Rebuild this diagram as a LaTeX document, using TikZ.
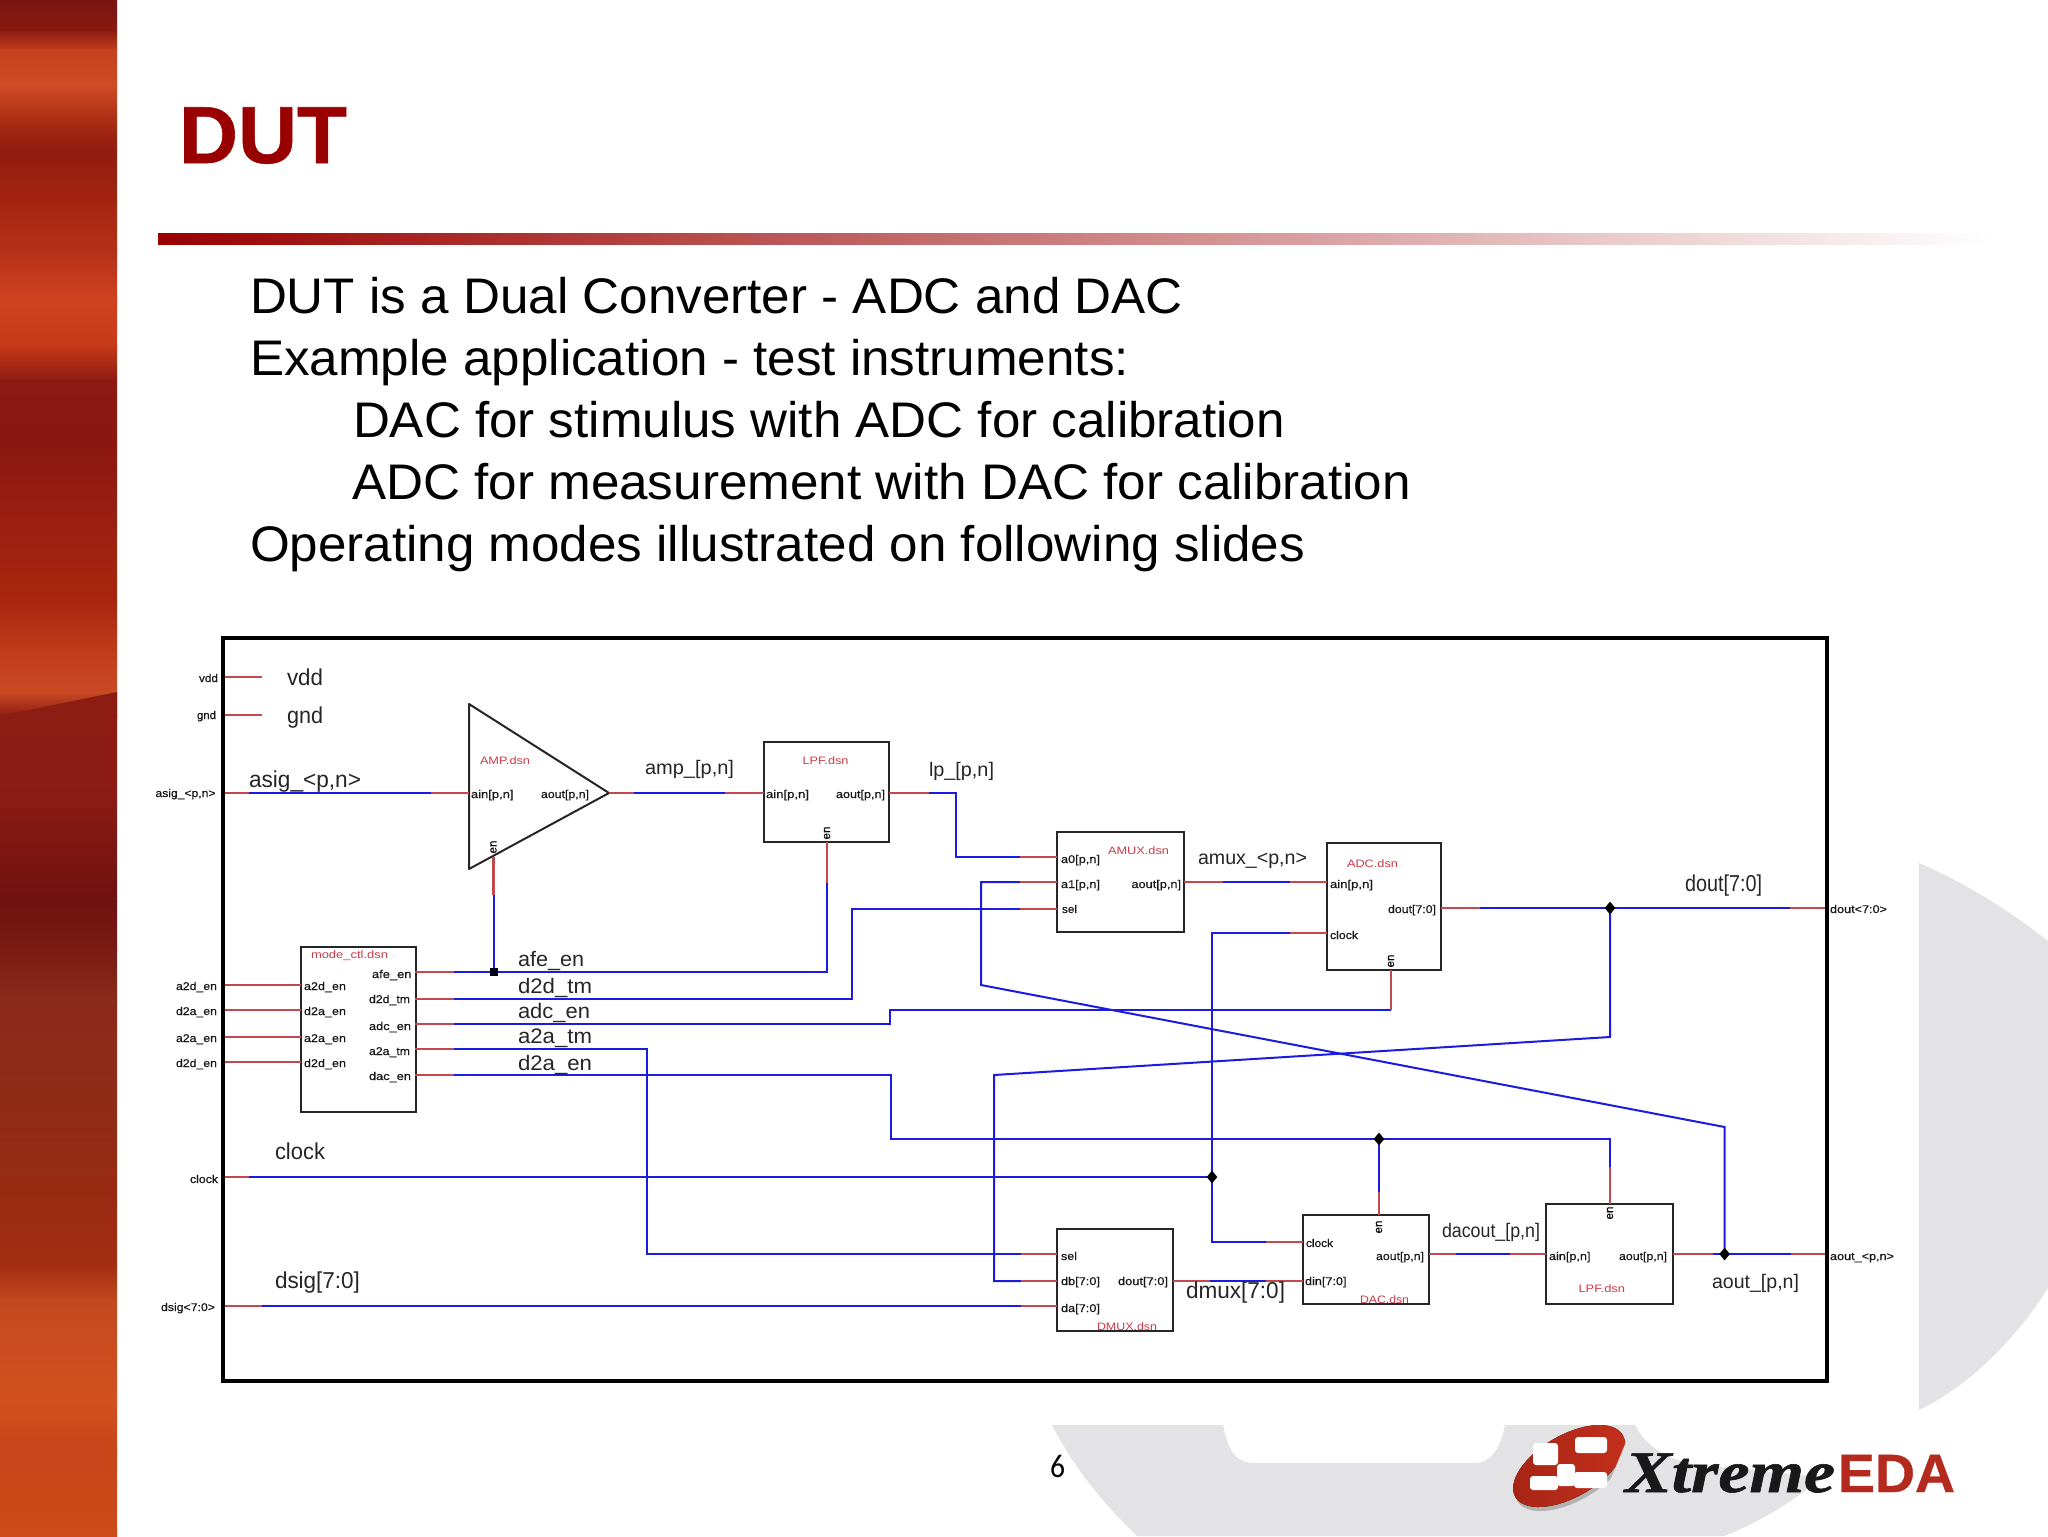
\documentclass[tikz,border=0pt]{standalone}
\usepackage{fontspec}
\usepackage{graphicx}
\usetikzlibrary{shapes.geometric}
\setmainfont{Liberation Sans}
\newfontfamily\serifLogo{Liberation Serif}
\newfontfamily\pageFont{Carlito}
\definecolor{titlered}{HTML}{990000}
\definecolor{wirered}{HTML}{C24A4E}
\definecolor{wireblue}{HTML}{1C1CE0}
\definecolor{dsnred}{HTML}{CC3A48}
\definecolor{wmgrey}{HTML}{E3E3E6}
\definecolor{logored}{HTML}{C4301C}
\definecolor{logodark}{HTML}{A62414}
\definecolor{edared}{HTML}{B52A1E}
\definecolor{bandslant}{HTML}{8D1D12}
\newlength\px \setlength\px{0.5pt}
\newcounter{tc}
% \lbl[style]{x}{baseline}{width}{text}
\newcommand\lbl[5][]{\stepcounter{tc}\node[txt,#1,anchor=base west] (t\arabic{tc}) at (#2,#3) {\resizebox{#4\px}{\height}{#5}};}
% \tri{a}{b}{c}{d}: red stub a-b, blue b-c, red stub c-d
\newcommand\tri[4]{\draw[redw] (#1) -- (#2); \draw[bluew] (#2) -- (#3); \draw[redw] (#3) -- (#4);}
\newcommand\stub[2]{\draw[redw] (#1) -- (#2);}
\tikzset{
  txt/.style={inner sep=0pt,outer sep=0pt,text=black},
  sm/.style={font=\fontsize{5.6}{6}\selectfont\addfontfeature{FakeBold=0.5},text=black!90},
  dsn/.style={font=\fontsize{5.4}{6}\selectfont,text=dsnred},
  sigA/.style={font=\fontsize{11.5}{13}\selectfont,text=black!85},
  sigB/.style={font=\fontsize{10.5}{12}\selectfont,text=black!85},
  sigC/.style={font=\fontsize{9.8}{12}\selectfont,text=black!85},
  body/.style={font=\fontsize{25}{30}\selectfont},
  blk/.style={draw=black!85,line width=1pt,inner sep=0pt,outer sep=0pt,rectangle,anchor=north west},
  redw/.style={draw=wirered,line width=1.1pt},
  bluew/.style={draw=wireblue,line width=1pt},
  jdia/.style={diamond,fill=black,inner sep=0pt,minimum width=11\px,minimum height=13\px},
  jsq/.style={rectangle,fill=black!90!blue,inner sep=0pt,minimum width=8\px,minimum height=8\px},
  enl/.style={inner sep=0pt,outer sep=0pt,rotate=90,font=\fontsize{5.8}{6}\selectfont\addfontfeature{FakeBold=0.5},text=black}
}
\begin{document}
\begin{tikzpicture}[x=0.5pt,y=-0.5pt]
\useasboundingbox (0,0) rectangle (2048,1536);
\fill[white] (0,0) rectangle (2048,1536);
% sidebar
\foreach \ya/\ca/\yb/\cb in {0/7A1410/30/8A1A10,30/8A1A10/50/C5401C,50/C5401C/85/CF4C24,85/CF4C24/125/A52A12,125/A52A12/150/8F1C10,150/8F1C10/200/A32510,200/A32510/250/B5301A,250/B5301A/300/D0431F,300/D0431F/345/C63A18,345/C63A18/380/8D1A12,380/8D1A12/440/8A1710,440/8A1710/520/9A1F10,520/9A1F10/600/A8260F,600/A8260F/660/C4401C,660/C4401C/692/C94A24,692/C94A24/715/8D1D12,715/8D1D12/800/8A1A14,800/8A1A14/900/6E1210,900/6E1210/950/7A1C14,950/7A1C14/1000/8A2A1A,1000/8A2A1A/1100/8F2C16,1100/8F2C16/1200/9A2A12,1200/9A2A12/1265/A32E12,1265/A32E12/1300/C24A1F,1300/C24A1F/1400/D3501F,1400/D3501F/1450/C9451A,1450/C9451A/1537/CF4A18}{
  \definecolor{sa}{HTML}{\ca}\definecolor{sb}{HTML}{\cb}
  \fill[top color=sa,bottom color=sb] (0,\ya) rectangle (117,\yb+1);
}
\fill[bandslant] (0,716) -- (117,692) -- (117,718) -- (0,722) -- cycle;
% watermark
\fill[wmgrey] (1919,863) .. controls (1970,885) and (2015,915) .. (2048,941) -- (2048,1288) .. controls (2015,1340) and (1970,1385) .. (1919,1410) -- cycle;
\fill[wmgrey] (1052,1425) .. controls (1075,1470) and (1105,1505) .. (1137,1536) -- (1724,1536) .. controls (1760,1522) and (1795,1500) .. (1823,1477) -- (1700,1465) .. controls (1665,1460) and (1645,1445) .. (1635,1425) -- (1505,1425) .. controls (1500,1450) and (1490,1463) .. (1475,1463) -- (1255,1463) .. controls (1235,1463) and (1228,1450) .. (1223,1425) -- cycle;
% title
\lbl[font=\fontsize{40.5}{44}\selectfont\bfseries\addfontfeature{FakeBold=0.7},text=titlered]{179}{163}{168}{DUT}
\fill[left color=titlered,right color=white] (158,233) rectangle (1990,244);
\lbl[body]{250}{313}{933}{DUT is a Dual Converter - ADC and DAC}
\lbl[body]{250}{375}{879}{Example application - test instruments:}
\lbl[body]{353}{437}{932}{DAC for stimulus with ADC for calibration}
\lbl[body]{352}{499}{1059}{ADC for measurement with DAC for calibration}
\lbl[body]{250}{561}{1055}{Operating modes illustrated on following slides}
% page number
\lbl[font=\fontsize{16.5}{18}\selectfont\pageFont]{1050}{1477}{15}{6}
% logo
\fill[black!30,rotate around={30:(1571,1470)}] (1571,1470) ellipse [x radius=31pt,y radius=15.5pt];
\fill[left color=logodark,right color=logored,rotate around={30:(1569,1466)}] (1569,1466) ellipse [x radius=31pt,y radius=15.5pt];
\fill[wmgrey] (1626,1442) -- (1607,1488) -- (1640,1500) -- (1645,1450) -- cycle;
\begin{scope}[rounded corners=1.5pt]
\fill[white] (1533,1443) rectangle (1558,1465);
\fill[white] (1575,1437) rectangle (1607,1453);
\fill[white] (1557,1464) rectangle (1575,1486);
\fill[white] (1530,1476) rectangle (1558,1490);
\fill[white] (1574,1472) rectangle (1607,1488);
\end{scope}
\lbl[font=\fontsize{29.5}{32}\selectfont\serifLogo\bfseries\itshape\addfontfeature{FakeBold=1},text=black!90]{1625}{1492}{210}{Xtreme}
\lbl[font=\fontsize{27}{30}\selectfont\bfseries\addfontfeature{FakeBold=0.6},text=edared]{1838}{1492}{117}{EDA}
% coordinates
\coordinate (vddA) at (224,677); \coordinate (vddB) at (262,677);
\coordinate (gndA) at (224,715); \coordinate (gndB) at (262,715);
\coordinate (asA) at (224,793); \coordinate (asB) at (249,793); \coordinate (asC) at (431,793); \coordinate (ampI) at (469,793);
\coordinate (ampT) at (469,704); \coordinate (ampL) at (469,869); \coordinate (ampO) at (609,793);
\coordinate (ampE) at (493.5,857); \coordinate (ampEb) at (493.5,895);
\coordinate (amB) at (634,793); \coordinate (amC) at (725,793); \coordinate (lpI) at (764,793);
% blocks
\node[blk,minimum width=125\px,minimum height=100\px] (lpfa) at (764,742) {};
\node[blk,minimum width=127\px,minimum height=100\px] (amux) at (1057,832) {};
\node[blk,minimum width=114\px,minimum height=127\px] (adc) at (1327,843) {};
\node[blk,minimum width=114.5\px,minimum height=165\px] (mode) at (301,947) {};
\node[blk,minimum width=116\px,minimum height=102\px] (dmux) at (1057,1229) {};
\node[blk,minimum width=126\px,minimum height=89\px] (dac) at (1303,1215) {};
\node[blk,minimum width=127\px,minimum height=100\px] (lpfb) at (1546,1204) {};
\draw[draw=black!85,line width=1pt,line join=round] (ampT) -- (ampO) -- (ampL) -- cycle;
% simple stubs
\stub{vddA}{vddB} \stub{gndA}{gndB}
\tri{asA}{asB}{asC}{ampI}
\tri{ampO}{amB}{amC}{lpI}
% mode inputs
\foreach \n/\y in {a/985,b/1010,c/1037,d/1062}{
  \coordinate (mi\n) at (224,\y); \coordinate (mj\n) at (301,\y);
  \draw[redw] (mi\n) -- (mj\n);
}
% mode outputs
\coordinate (afeA) at (415,972); \coordinate (afeB) at (454,972); \coordinate (afeJ) at (493.5,972); \coordinate (afeC) at (827,972);
\coordinate (lpE) at (827,842); \coordinate (lpEb) at (827,883);
\stub{afeA}{afeB}
\draw[bluew] (afeB) -- (afeC) -- (lpEb); \stub{lpEb}{lpE}
\draw[bluew] (afeJ) -- (ampEb); \stub{ampEb}{ampE}
\node[jsq] (jafe) at (afeJ) {};
\coordinate (d2dA) at (415,999); \coordinate (d2dB) at (454,999); \coordinate (d2dC) at (852,999); \coordinate (d2dD) at (852,909); \coordinate (selB) at (1020,909); \coordinate (selC) at (1057,909);
\stub{d2dA}{d2dB} \draw[bluew] (d2dB) -- (d2dC) -- (d2dD) -- (selB); \stub{selB}{selC}
\coordinate (adcA) at (415,1024); \coordinate (adcB) at (454,1024); \coordinate (adcC) at (890,1024); \coordinate (adcD) at (890,1010); \coordinate (adcF) at (1391,1010); \coordinate (adcE) at (1391,970);
\stub{adcA}{adcB} \draw[bluew] (adcB) -- (adcC) -- (adcD) -- (adcF); \stub{adcF}{adcE}
\coordinate (a2aA) at (415,1049); \coordinate (a2aB) at (454,1049); \coordinate (a2aC) at (647,1049); \coordinate (a2aD) at (647,1254); \coordinate (dmsA) at (1021,1254); \coordinate (dmsB) at (1057,1254);
\stub{a2aA}{a2aB} \draw[bluew] (a2aB) -- (a2aC) -- (a2aD) -- (dmsA); \stub{dmsA}{dmsB}
\coordinate (dacA) at (415,1075); \coordinate (dacB) at (454,1075); \coordinate (dacC) at (891,1075); \coordinate (dacD) at (891,1139); \coordinate (dacJ) at (1379,1139); \coordinate (dacK) at (1610,1139); \coordinate (dacL) at (1610,1167); \coordinate (lpbE) at (1610,1204); \coordinate (dacM) at (1379,1192); \coordinate (dacE) at (1379,1215);
\stub{dacA}{dacB} \draw[bluew] (dacB) -- (dacC) -- (dacD) -- (dacK) -- (dacL); \stub{dacL}{lpbE}
\draw[bluew] (dacJ) -- (dacM); \stub{dacM}{dacE}
\node[jdia] (jdac) at (dacJ) {};
% lp to amux
\coordinate (lpO) at (889,793); \coordinate (lpB) at (929,793); \coordinate (lpC) at (956,793); \coordinate (lpD) at (956,857); \coordinate (a0B) at (1020,857); \coordinate (a0C) at (1057,857);
\stub{lpO}{lpB} \draw[bluew] (lpB) -- (lpC) -- (lpD) -- (a0B); \stub{a0B}{a0C}
% amux to adc
\coordinate (muO) at (1184,882); \coordinate (muB) at (1223,882); \coordinate (muC) at (1290,882); \coordinate (adI) at (1327,882);
\tri{muO}{muB}{muC}{adI}
% a1 from aout
\coordinate (a1C) at (1057,882); \coordinate (a1B) at (1020,882); \coordinate (a1D) at (981,882); \coordinate (a1E) at (981,985); \coordinate (a1F) at (1724.6,1127); \coordinate (aoJ) at (1724.6,1254);
\stub{a1C}{a1B} \draw[bluew] (a1B) -- (a1D) -- (a1E) -- (a1F) -- (aoJ);
% dout
\coordinate (doO) at (1441,908); \coordinate (doB) at (1480,908); \coordinate (doJ) at (1610,908); \coordinate (doC) at (1790,908); \coordinate (doP) at (1827,908); \coordinate (doD) at (1610,1037); \coordinate (doE) at (994,1075); \coordinate (doF) at (994,1281); \coordinate (dbB) at (1021,1281); \coordinate (dbC) at (1057,1281);
\tri{doO}{doB}{doC}{doP}
\draw[bluew] (doJ) -- (doD) -- (doE) -- (doF) -- (dbB); \stub{dbB}{dbC}
\node[jdia] (jdout) at (doJ) {};
% clock
\coordinate (ckA) at (224,1177); \coordinate (ckB) at (249,1177); \coordinate (ckJ) at (1212,1177); \coordinate (ckU) at (1212,933); \coordinate (ckV) at (1290,933); \coordinate (ckW) at (1327,933); \coordinate (ckD) at (1212,1242); \coordinate (ckE) at (1266,1242); \coordinate (ckF) at (1303,1242);
\stub{ckA}{ckB} \draw[bluew] (ckB) -- (ckJ);
\draw[bluew] (ckV) -- (ckU) -- (ckD) -- (ckE); \stub{ckV}{ckW} \stub{ckE}{ckF}
\node[jdia] (jclk) at (ckJ) {};
% dsig
\coordinate (dsA) at (224,1306); \coordinate (dsB) at (262,1306); \coordinate (dsC) at (1021,1306); \coordinate (dsD) at (1057,1306);
\tri{dsA}{dsB}{dsC}{dsD}
% dmux to dac
\coordinate (dmO) at (1173,1281); \coordinate (dmB) at (1210,1281); \coordinate (dmC) at (1266,1281); \coordinate (dmD) at (1303,1281);
\tri{dmO}{dmB}{dmC}{dmD}
% dac to lpf
\coordinate (daO) at (1429,1254); \coordinate (daB) at (1456,1254); \coordinate (daC) at (1510,1254); \coordinate (daD) at (1546,1254);
\tri{daO}{daB}{daC}{daD}
% lpf to out
\coordinate (lbO) at (1673,1254); \coordinate (lbB) at (1713,1254); \coordinate (lbC) at (1791,1254); \coordinate (lbD) at (1827,1254);
\tri{lbO}{lbB}{lbC}{lbD}
\node[jdia] (jaout) at (aoJ) {};
% frame
\node[draw=black,line width=2.4pt,inner sep=0pt,outer sep=0pt,rectangle,anchor=north west,minimum width=1604\px,minimum height=743\px] (frame) at (223,638) {};
% signal labels
\lbl[sigA]{287}{685}{36}{vdd}
\lbl[sigA]{287}{723}{36}{gnd}
\lbl[sigA]{249}{787}{112}{asig\_<p,n>}
\lbl[sigC]{645}{774}{89}{amp\_[p,n]}
\lbl[sigC]{929}{776}{65}{lp\_[p,n]}
\lbl[sigC]{1198}{864}{109}{amux\_<p,n>}
\lbl[sigA]{1685}{891}{77}{dout[7:0]}
\lbl[sigB]{518}{966}{66}{afe\_en}
\lbl[sigB]{518}{993}{74}{d2d\_tm}
\lbl[sigB]{518}{1018}{72}{adc\_en}
\lbl[sigB]{518}{1043}{74}{a2a\_tm}
\lbl[sigB]{518}{1070}{74}{d2a\_en}
\lbl[sigA]{275}{1159}{50}{clock}
\lbl[sigA]{275}{1288}{85}{dsig[7:0]}
\lbl[sigA]{1186}{1298}{99}{dmux[7:0]}
\lbl[sigC]{1442}{1237}{98}{dacout\_[p,n]}
\lbl[sigC]{1712}{1288}{87}{aout\_[p,n]}
% port labels
\lbl[sm]{199}{682}{19}{vdd}
\lbl[sm]{197}{719}{19}{gnd}
\lbl[sm]{155.5}{797}{60}{asig\_<p,n>}
\lbl[sm]{176}{990}{41}{a2d\_en}
\lbl[sm]{176}{1015}{41}{d2a\_en}
\lbl[sm]{176}{1042}{41}{a2a\_en}
\lbl[sm]{176}{1067}{41}{d2d\_en}
\lbl[sm]{190}{1183}{28}{clock}
\lbl[sm]{161}{1311}{54}{dsig<7:0>}
\lbl[sm]{1830}{913}{57}{dout<7:0>}
\lbl[sm]{1830}{1260}{64}{aout\_<p,n>}
% mode_ctl
\lbl[dsn]{311}{958}{77}{mode\_ctl.dsn}
\lbl[sm]{304}{990}{42}{a2d\_en}
\lbl[sm]{304}{1015}{42}{d2a\_en}
\lbl[sm]{304}{1042}{42}{a2a\_en}
\lbl[sm]{304}{1067}{42}{d2d\_en}
\lbl[sm]{372}{978}{39.5}{afe\_en}
\lbl[sm]{369}{1003}{41}{d2d\_tm}
\lbl[sm]{369}{1030}{42}{adc\_en}
\lbl[sm]{369}{1055}{41}{a2a\_tm}
\lbl[sm]{369}{1080}{42}{dac\_en}
% AMP
\lbl[dsn]{480}{764}{50}{AMP.dsn}
\lbl[sm]{471}{798}{42.5}{ain[p,n]}
\lbl[sm]{541}{798}{48}{aout[p,n]}
\node[enl] (enamp) at (493.5,847) {en};
% LPF a
\lbl[dsn]{802.5}{764}{46}{LPF.dsn}
\lbl[sm]{766}{798}{43}{ain[p,n]}
\lbl[sm]{836}{798}{49}{aout[p,n]}
\node[enl] (enlpa) at (827,833) {en};
% AMUX
\lbl[dsn]{1108}{854}{61}{AMUX.dsn}
\lbl[sm]{1061}{863}{39}{a0[p,n]}
\lbl[sm]{1061}{888}{39}{a1[p,n]}
\lbl[sm]{1062}{913}{15}{sel}
\lbl[sm]{1131.5}{888}{49.5}{aout[p,n]}
% ADC
\lbl[dsn]{1347}{867}{51}{ADC.dsn}
\lbl[sm]{1330}{888}{43}{ain[p,n]}
\lbl[sm]{1388}{913}{48}{dout[7:0]}
\lbl[sm]{1330}{939}{28}{clock}
\node[enl] (enadc) at (1391,961) {en};
% DMUX
\lbl[sm]{1061}{1260}{16}{sel}
\lbl[sm]{1061}{1285}{39}{db[7:0]}
\lbl[sm]{1061}{1312}{39}{da[7:0]}
\lbl[sm]{1118}{1285}{50}{dout[7:0]}
\lbl[dsn]{1097}{1330}{60}{DMUX.dsn}
% DAC
\lbl[sm]{1306}{1247}{27}{clock}
\lbl[sm]{1305}{1285}{41.5}{din[7:0]}
\lbl[sm]{1376}{1260}{48}{aout[p,n]}
\node[enl] (endac) at (1379,1227) {en};
\lbl[dsn]{1360}{1303}{49}{DAC.dsn}
% LPF b
\lbl[sm]{1549}{1260}{41.5}{ain[p,n]}
\lbl[sm]{1619}{1260}{48}{aout[p,n]}
\node[enl] (enlpb) at (1610,1213) {en};
\lbl[dsn]{1578.5}{1292}{46.5}{LPF.dsn}
\end{tikzpicture}
\end{document}
